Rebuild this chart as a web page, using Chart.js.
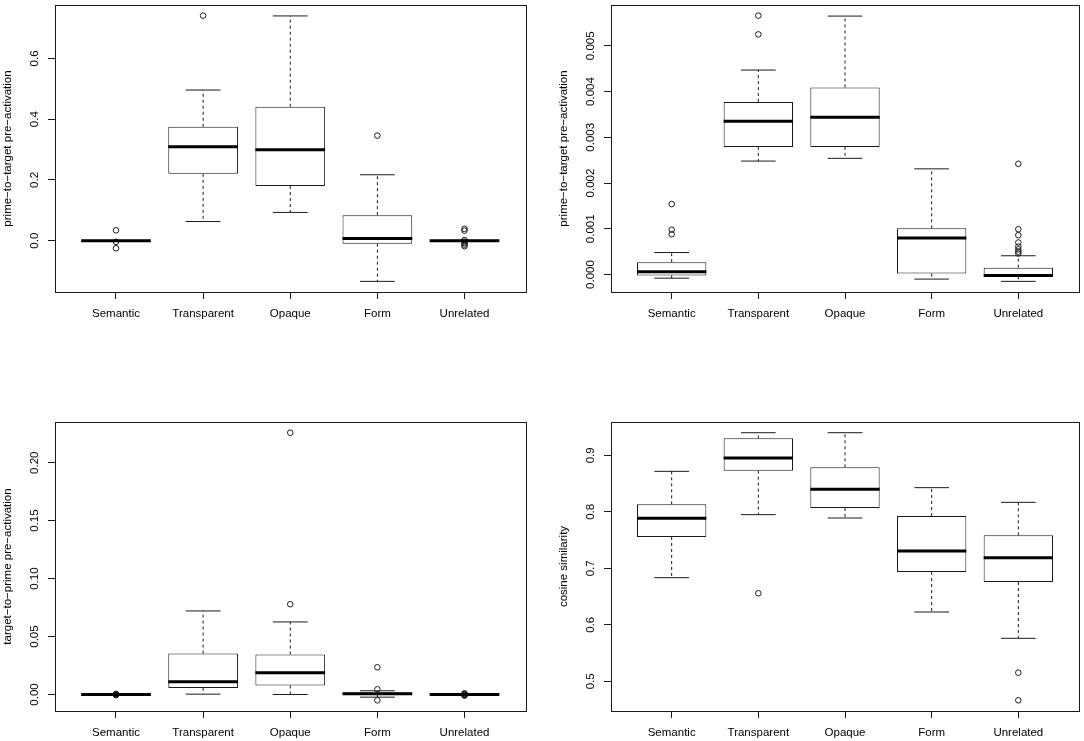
<!DOCTYPE html>
<html>
<head>
<meta charset="utf-8">
<title>Boxplots</title>
<script src="https://cdn.jsdelivr.net/npm/chart.js@4.4.1/dist/chart.umd.min.js"></script>
<style>
  html, body { margin: 0; padding: 0; background: #fff; }
  body { width: 1084px; height: 741px; position: relative; overflow: hidden; }
  canvas { position: absolute; }
</style>
</head>
<body>
<canvas id="chartA" width="540" height="345" style="left:0;top:0"></canvas>
<canvas id="chartB" width="528" height="345" style="left:556px;top:0"></canvas>
<canvas id="chartC" width="540" height="341" style="left:0;top:400px"></canvas>
<canvas id="chartD" width="528" height="341" style="left:556px;top:400px"></canvas>
<script>
// categories shared by the four panels
const categories = ['Semantic', 'Transparent', 'Opaque', 'Form', 'Unrelated'];

// top left: prime-to-target pre-activation
const aLow    = [0, 0.063, 0.093, -0.134, 0];
const aQ1     = [0, 0.220, 0.180, -0.010, -0.001];
const aMedian = [0, 0.309, 0.299, 0.007, 0];
const aQ3     = [0, 0.375, 0.441, 0.084, 0.001];
const aHigh   = [0, 0.496, 0.740, 0.217, 0.001];
const aOutliers = [[0.034, -0.004, -0.025], [0.741], [], [0.346],
                   [0.039, 0.033, 0.002, -0.003, -0.008, -0.013, -0.018]];
const aTicks = [0.0, 0.2, 0.4, 0.6];

// top right: prime-to-target pre-activation
const bLow    = [-0.00008, 0.00248, 0.00254, -0.0001, -0.00015];
const bQ1     = [-0.00002, 0.00279, 0.00279, 0.00002, -0.00004];
const bMedian = [0.00006, 0.00335, 0.00344, 0.0008, -0.00002];
const bQ3     = [0.00027, 0.00377, 0.00409, 0.00101, 0.00015];
const bHigh   = [0.00048, 0.00447, 0.00565, 0.00231, 0.00041];
const bOutliers = [[0.00154, 0.00098, 0.00088], [0.00566, 0.00525], [], [],
                   [0.00242, 0.00099, 0.00086, 0.0007, 0.00061, 0.00055, 0.0005, 0.00046]];
const bTicks = [0, 0.001, 0.002, 0.003, 0.004, 0.005];

// bottom left: target-to-prime pre-activation
const cLow    = [0, 0.0003, 0, -0.0023, 0];
const cQ1     = [0, 0.0057, 0.0078, -0.0003, 0];
const cMedian = [0, 0.0109, 0.0187, 0.0006, 0];
const cQ3     = [0, 0.0353, 0.0345, 0.0017, 0];
const cHigh   = [0, 0.0721, 0.0626, 0.0032, 0];
const cOutliers = [[0.0005, 0.0002, -0.0002, -0.0005], [], [0.2259, 0.0779], [0.0235, 0.0045, -0.005],
                   [0.001, 0.0005, 0, -0.0005, -0.001]];
const cTicks = [0, 0.05, 0.10, 0.15, 0.20];

// bottom right: cosine similarity
const dLow    = [0.6835, 0.795, 0.7891, 0.6227, 0.5761];
const dQ1     = [0.7555, 0.8729, 0.8068, 0.6935, 0.6758];
const dMedian = [0.7885, 0.8953, 0.8398, 0.7307, 0.7189];
const dQ3     = [0.8133, 0.9301, 0.8788, 0.7926, 0.7584];
const dHigh   = [0.8717, 0.9401, 0.9401, 0.8428, 0.8168];
const dOutliers = [[], [0.6558], [], [], [0.5153, 0.4664]];
const dTicks = [0.5, 0.6, 0.7, 0.8, 0.9];

const FONT = '"Liberation Sans", Arial, Helvetica, sans-serif';
const INK = '#1a1a1a';

// frame round the plot and R-style vertical y tick labels
const frameAndYLabels = {
    id: 'frameAndYLabels',
    afterDraw(chart, args, opts) {
        const { ctx, chartArea: a } = chart;
        const y = chart.scales.y;
        ctx.save();
        ctx.strokeStyle = INK;
        ctx.lineWidth = 1;
        ctx.strokeRect(Math.round(a.left) + 0.5, Math.round(a.top) + 0.5,
            Math.round(a.right - a.left), Math.round(a.bottom - a.top));
        ctx.fillStyle = '#000';
        ctx.font = '11.5px ' + FONT;
        ctx.textAlign = 'center';
        ctx.textBaseline = 'middle';
        y.ticks.forEach(t => {
            ctx.save();
            ctx.translate(a.left - 20.5, y.getPixelForValue(t.value));
            ctx.rotate(-Math.PI / 2);
            ctx.fillText(t.value.toFixed(opts.decimals), 0, 0);
            ctx.restore();
        });
        ctx.restore();
    }
};

function boxDatasets(low, q1, median, q3, high, outliers) {
    const gap = i => ({ x: i + 1, y: null });
    const whiskers = [], caps = [], medians = [], points = [];
    categories.forEach((c, i) => {
        const x = i + 1;
        whiskers.push({ x, y: q3[i] }, { x, y: high[i] }, gap(i),
                      { x, y: q1[i] }, { x, y: low[i] }, gap(i));
        caps.push({ x: x - 0.2, y: high[i] }, { x: x + 0.2, y: high[i] }, gap(i),
                  { x: x - 0.2, y: low[i] }, { x: x + 0.2, y: low[i] }, gap(i));
        medians.push({ x: x - 0.4, y: median[i] }, { x: x + 0.4, y: median[i] }, gap(i));
        outliers[i].forEach(v => points.push({ x, y: v }));
    });
    return [
        {
            type: 'line', data: medians, borderColor: '#000', borderWidth: 3,
            borderCapStyle: 'butt', pointRadius: 0, spanGaps: false, order: 0
        },
        {
            type: 'scatter', data: points, pointRadius: 2.8, pointBorderWidth: 1,
            pointBackgroundColor: 'rgba(0,0,0,0)', pointBorderColor: INK, order: 1
        },
        {
            type: 'bar',
            data: categories.map((c, i) => ({ x: i + 1, y: [q1[i], q3[i]] })),
            backgroundColor: '#fff', borderColor: INK, borderWidth: 1,
            borderSkipped: false, categoryPercentage: 0.8, barPercentage: 1, order: 2
        },
        {
            type: 'line', data: caps, borderColor: INK, borderWidth: 1,
            pointRadius: 0, spanGaps: false, order: 3
        },
        {
            type: 'line', data: whiskers, borderColor: INK, borderWidth: 1, borderDash: [3, 3],
            pointRadius: 0, spanGaps: false, order: 4
        }
    ];
}

function makePanel(p) {
    const all = p.low.concat(p.high, ...p.outliers);
    const lo = Math.min(...all), hi = Math.max(...all);
    const pad = (hi - lo) * 0.04;

    new Chart(document.getElementById(p.id), {
        type: 'bar',
        data: { datasets: boxDatasets(p.low, p.q1, p.median, p.q3, p.high, p.outliers) },
        options: {
            responsive: false,
            animation: false,
            events: [],
            layout: { padding: { top: p.padTop, right: p.padRight, left: 0, bottom: 0 } },
            plugins: {
                legend: { display: false },
                tooltip: { enabled: false },
                frameAndYLabels: { decimals: p.decimals }
            },
            scales: {
                x: {
                    type: 'linear', min: 0.3, max: 5.7, offset: false,
                    afterBuildTicks: axis => { axis.ticks = categories.map((c, i) => ({ value: i + 1 })); },
                    afterFit: axis => { axis.height = p.xHeight; },
                    grid: { drawOnChartArea: false, drawTicks: true, tickLength: 7, color: INK, offset: false },
                    border: { display: false },
                    ticks: {
                        autoSkip: false, maxRotation: 0, padding: 8, color: '#000',
                        font: { family: FONT, size: 11.5 },
                        callback: v => categories[v - 1]
                    }
                },
                y: {
                    type: 'linear', min: lo - pad, max: hi + pad, beginAtZero: false,
                    afterBuildTicks: axis => { axis.ticks = p.ticks.map(v => ({ value: v })); },
                    afterFit: axis => { axis.width = 55; },
                    grid: { drawOnChartArea: false, drawTicks: true, tickLength: 7, color: INK },
                    border: { display: false },
                    ticks: { display: false },
                    title: {
                        display: true, text: p.title, color: '#000',
                        font: { family: FONT, size: 11.5 }, padding: { top: 0.5, bottom: 0 }
                    }
                }
            }
        },
        plugins: [frameAndYLabels]
    });
}

makePanel({ id: 'chartA', title: 'prime\u2212to\u2212target pre\u2212activation',
    low: aLow, q1: aQ1, median: aMedian, q3: aQ3, high: aHigh, outliers: aOutliers,
    ticks: aTicks, decimals: 1, padTop: 2, padRight: 14.5, xHeight: 53 });
makePanel({ id: 'chartB', title: 'prime\u2212to\u2212target pre\u2212activation',
    low: bLow, q1: bQ1, median: bMedian, q3: bQ3, high: bHigh, outliers: bOutliers,
    ticks: bTicks, decimals: 3, padTop: 2, padRight: 2.5, xHeight: 53 });
makePanel({ id: 'chartC', title: 'target\u2212to\u2212prime pre\u2212activation',
    low: cLow, q1: cQ1, median: cMedian, q3: cQ3, high: cHigh, outliers: cOutliers,
    ticks: cTicks, decimals: 2, padTop: 22, padRight: 14.5, xHeight: 30 });
makePanel({ id: 'chartD', title: 'cosine similarity',
    low: dLow, q1: dQ1, median: dMedian, q3: dQ3, high: dHigh, outliers: dOutliers,
    ticks: dTicks, decimals: 1, padTop: 22, padRight: 2.5, xHeight: 30 });
</script>
</body>
</html>
